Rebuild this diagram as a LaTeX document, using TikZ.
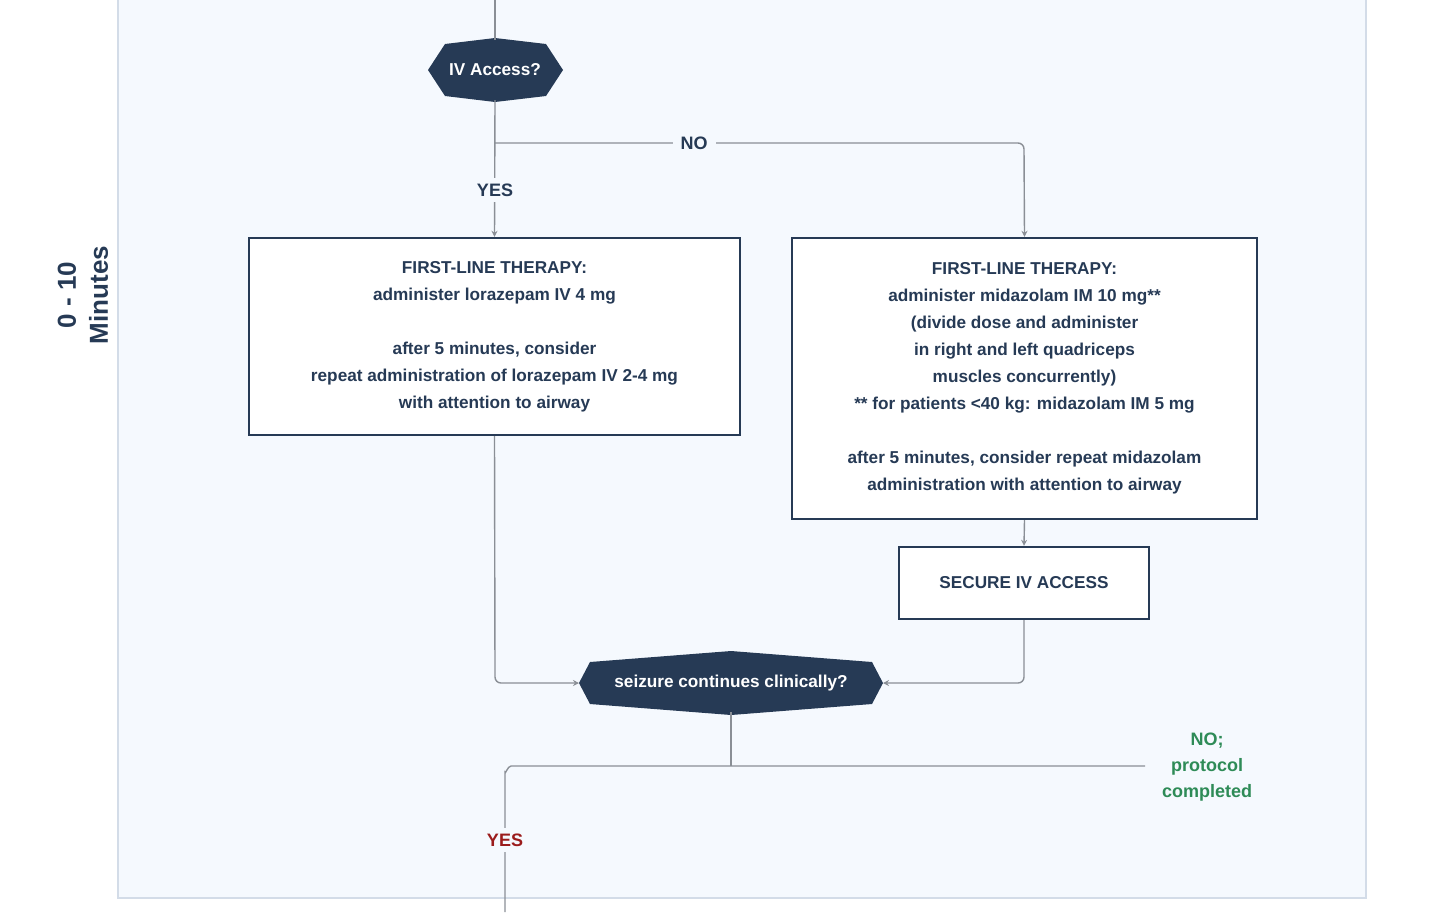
\documentclass[tikz,border=0pt]{standalone}
\usepackage{fontspec}
\setmainfont{Liberation Sans}
\usetikzlibrary{shapes.geometric,arrows.meta}
\definecolor{navy}{HTML}{263A55}
\definecolor{panel}{HTML}{F5F9FE}
\definecolor{panelb}{HTML}{D3DCE8}
\definecolor{ln}{HTML}{8A8F96}
\definecolor{grn}{HTML}{2E8B57}
\definecolor{rd}{HTML}{9B1C1C}
\begin{document}
\begin{tikzpicture}[x=0.5pt,y=-0.5pt,
  box/.style={draw=navy,line width=1.2pt,fill=white,text=navy,font=\bfseries\fontsize{8.6}{13.5}\selectfont,align=center,inner sep=0pt},
  hex/.style={fill=navy,text=white,font=\bfseries\fontsize{9}{11}\selectfont},
  con/.style={draw=ln,line width=0.7pt},
  arr/.style={con,-{Stealth[length=3pt,width=3pt]}},
  lab/.style={font=\bfseries\fontsize{9}{13}\selectfont,align=center}]
\useasboundingbox (0,0) rectangle (1440,912);
\fill[panel] (118,-5) rectangle (1366,898);
\draw[panelb,line width=0.8pt] (118,-5) -- (118,898) -- (1366,898) -- (1366,-5);
\node[lab,text=navy,rotate=90,font=\bfseries\fontsize{13}{16}\selectfont] (side) at (83,295) {0 - 10\\Minutes};
% hexagon 1
\path[hex] (428,70) -- (445,44) -- (495,38) -- (546,44) -- (563,70) -- (546,96) -- (495,102) -- (445,96) -- cycle;
\node[text=white,font=\bfseries\fontsize{8.6}{11}\selectfont] (iv) at (495,70) {IV Access?};
\coordinate (iva) at (495,100);
\coordinate (top) at (495,0);
\coordinate (ivt) at (495,40);
\draw[con] (top) -- (ivt);
% boxes
\node[box,minimum width=245.5pt,minimum height=98.5pt] (L) at (494.5,336.5) {FIRST-LINE THERAPY:\\administer lorazepam IV 4 mg\\[13.5pt]after 5 minutes, consider\\repeat administration of lorazepam IV 2-4 mg\\with attention to airway};
\node[box,minimum width=232.5pt,minimum height=140.5pt] (R) at (1024.5,378.5) {FIRST-LINE THERAPY:\\administer midazolam IM 10 mg**\\(divide dose and administer\\in right and left quadriceps\\muscles concurrently)\\** for patients <40 kg: midazolam IM 5 mg\\[13.5pt]after 5 minutes, consider repeat midazolam\\administration with attention to airway};
\node[box,minimum width=125pt,minimum height=36pt] (S) at (1024,583) {SECURE IV ACCESS};
% hexagon 2
\path[hex] (579,683) -- (590,662) -- (731,651) -- (872,662) -- (883,683) -- (872,704) -- (731,715) -- (590,704) -- cycle;
\node[text=white,font=\bfseries\fontsize{8.6}{11}\selectfont] (sz) at (731,683) {seizure continues clinically?};
\coordinate (szl) at (579,683);
\coordinate (szr) at (883,683);
\coordinate (szb) at (731,712);
% connectors
\coordinate (br) at (495,143);
\draw[arr] (iva) -- (L.north);
\draw[arr] (br) -- (1018,143) to[out=0,in=90] (1024,149) -- (R.north);
\node[lab,text=navy,fill=panel,inner sep=4pt] (no) at (694,143) {NO};
\node[lab,text=navy,fill=panel,inner sep=3pt] (yes) at (495,190) {YES};
\draw[arr] (R.south) -- (S.north);
\draw[arr] (L.south) -- (495,677) to[out=-90,in=180] (501,683) -- (szl);
\draw[arr] (S.south) -- (1024,677) to[out=-90,in=0] (1018,683) -- (szr);
\coordinate (endl) at (505,912);
\draw[con] (szb) -- (731,766);
\draw[con] (endl) -- (505,772) to[out=-90,in=180] (511,766) -- (1145,766);
\node[lab,text=rd,fill=panel,inner sep=3pt] (y2) at (505,840) {YES};
\node[lab,text=grn] (no2) at (1207,767) {NO;\\protocol\\completed};
\end{tikzpicture}
\end{document}
